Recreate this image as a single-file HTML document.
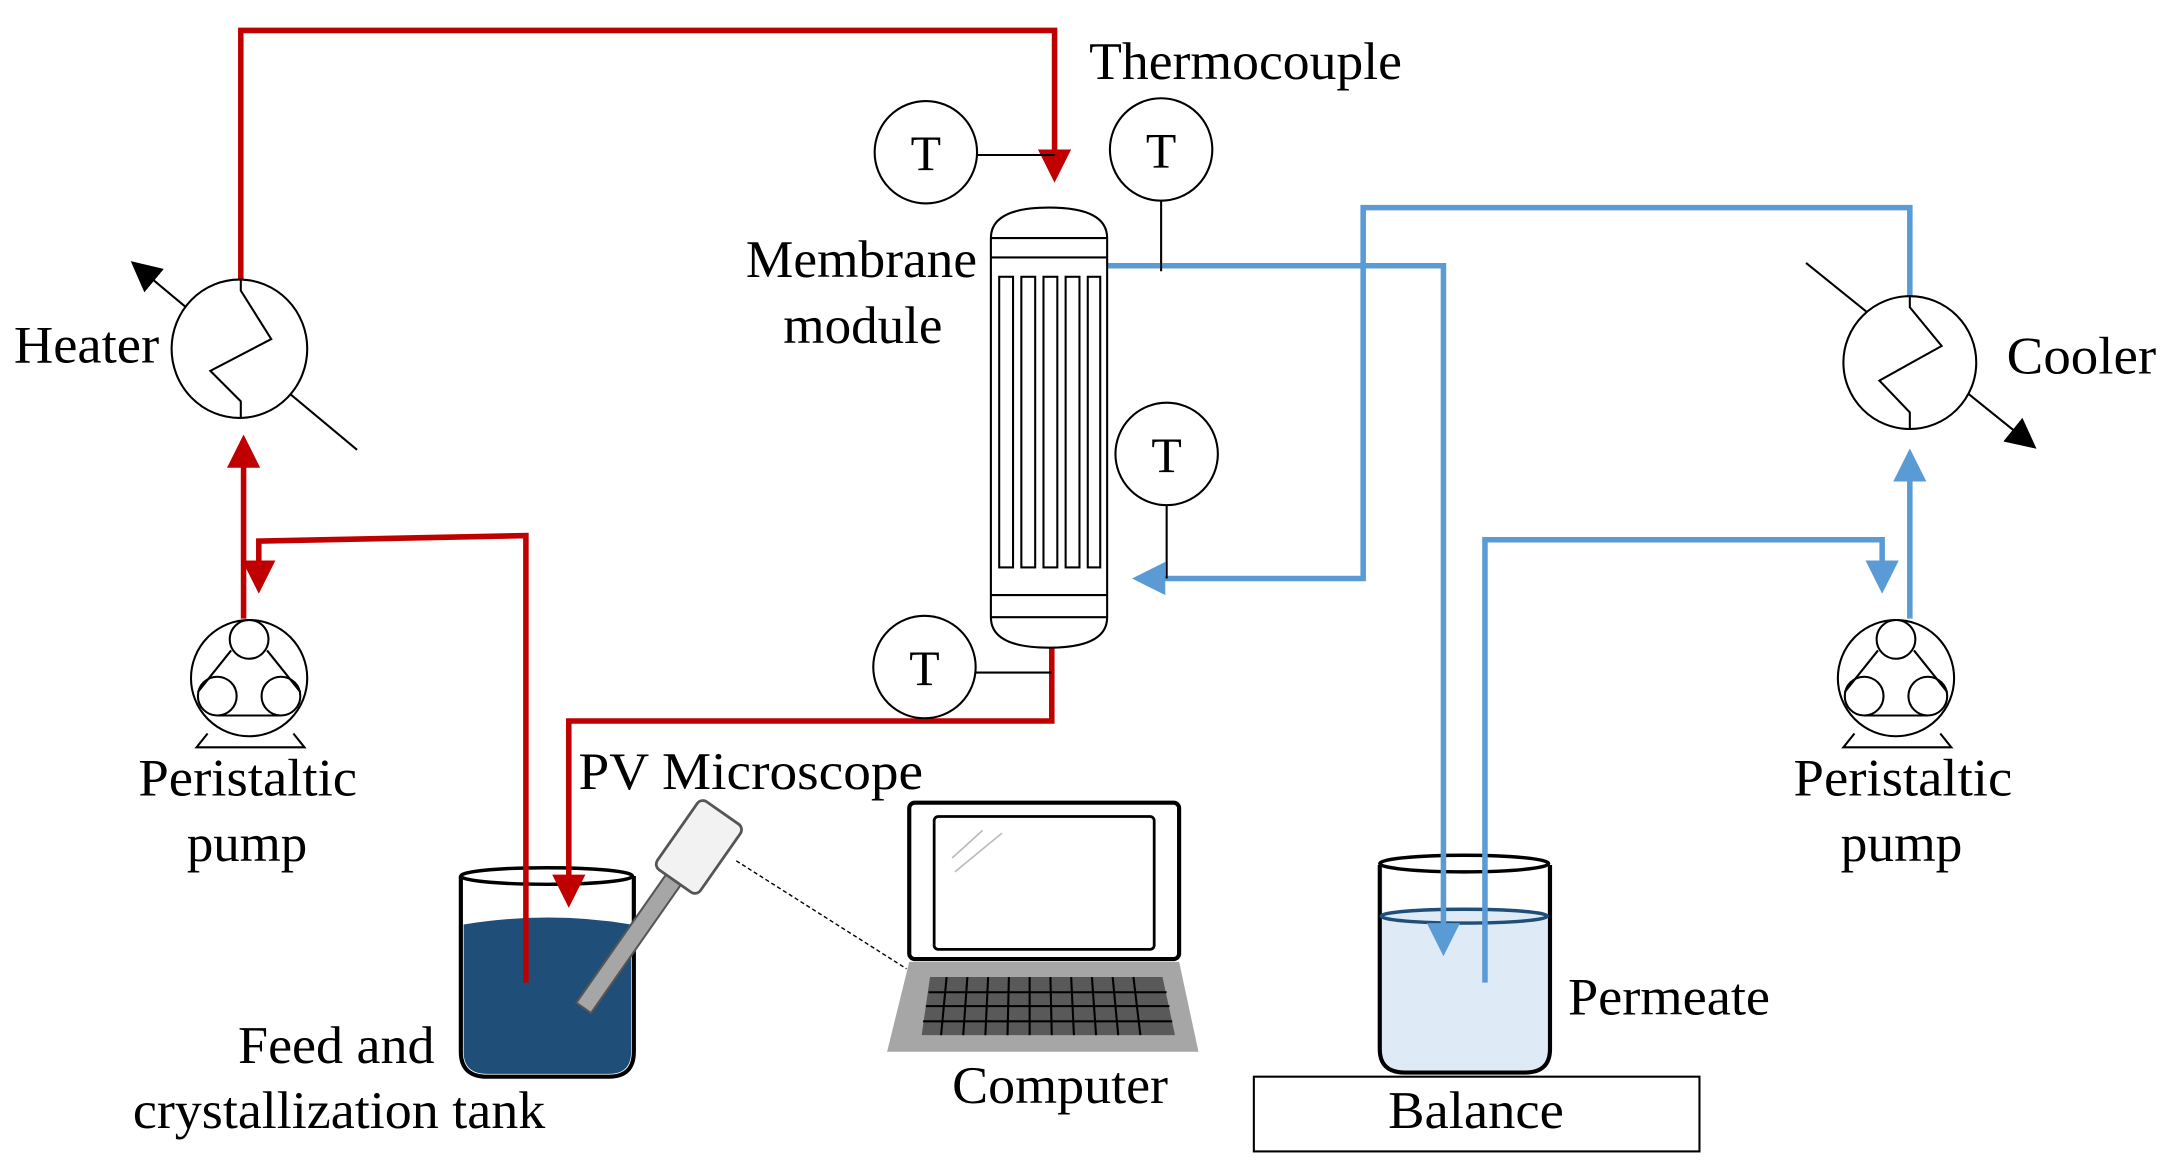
<!DOCTYPE html>
<html><head><style>html,body{margin:0;padding:0;background:#fff}svg{display:block}text{font-family:"Liberation Serif","DejaVu Serif",serif}</style></head>
<body>
<svg width="2170" height="1173" viewBox="0 0 1568 847.6" preserveAspectRatio="none" xmlns="http://www.w3.org/2000/svg" font-size="38" fill="#000">
<defs>
<marker id="ar" markerWidth="6" markerHeight="6" refX="5" refY="3" orient="auto" markerUnits="strokeWidth"><path d="M0,0 L6,3 L0,6 z" fill="#c00000"/></marker>
<marker id="ab" markerWidth="6" markerHeight="6" refX="5" refY="3" orient="auto" markerUnits="strokeWidth"><path d="M0,0 L6,3 L0,6 z" fill="#5b9bd5"/></marker>
<marker id="ak" markerWidth="22" markerHeight="22" refX="20" refY="11" orient="auto" markerUnits="userSpaceOnUse"><path d="M0,0 L22,11 L0,22 z" fill="#000"/></marker>
</defs>
<!-- tank -->
<path d="M333,633 L333,760 Q333,778 352,778 L440,778 Q458,778 458,760 L458,633" fill="#fff" stroke="#000" stroke-width="3"/>
<path d="M335,668 Q396,658 456,668 L456,760 Q456,776 440,776 L352,776 Q335,776 335,760 Z" fill="#1f4e79"/>
<ellipse cx="395" cy="633" rx="62" ry="6" fill="none" stroke="#000" stroke-width="2.5"/>
<!-- permeate -->
<path d="M997,625 L997,758 Q997,775 1015,775 L1102,775 Q1120,775 1120,758 L1120,625" fill="#deebf7" stroke="#000" stroke-width="3"/>
<rect x="999" y="622" width="119" height="38" fill="#fff"/>
<ellipse cx="1058" cy="624" rx="61" ry="6" fill="none" stroke="#000" stroke-width="2.5"/>
<ellipse cx="1058" cy="662" rx="60" ry="5" fill="#deebf7" stroke="#1f4e79" stroke-width="2.5"/>
<rect x="906" y="778" width="322" height="54" fill="#fff" stroke="#000" stroke-width="1.5"/>
<!-- red lines -->
<g stroke="#c00000" stroke-width="4" fill="none">
<polyline points="174,203 174,22 762,22 762,128" marker-end="url(#ar)"/>
<line x1="176" y1="447" x2="176" y2="318" marker-end="url(#ar)"/>
<polyline points="380,710 380,387 187,391 187,425" marker-end="url(#ar)"/>
<polyline points="760,468 760,521 411,521 411,652" marker-end="url(#ar)"/>
</g>
<!-- blue lines -->
<g stroke="#5b9bd5" stroke-width="4" fill="none">
<polyline points="800,192 1043,192 1043,687" marker-end="url(#ab)"/>
<polyline points="1380,215 1380,150 985,150 985,418 822,418" marker-end="url(#ab)"/>
<line x1="1380" y1="447" x2="1380" y2="328" marker-end="url(#ab)"/>
<polyline points="1073,710 1073,390 1360,390 1360,425" marker-end="url(#ab)"/>
</g>
<g stroke="#000" stroke-width="1.5" fill="none">
<!-- heater -->
<line x1="258" y1="325" x2="96" y2="190" marker-end="url(#ak)"/>
<ellipse cx="173" cy="252" rx="49" ry="50" fill="#fff"/>
<polyline points="174,202 174,210 196,245 152,268 174,290 174,302"/>
<!-- cooler -->
<line x1="1305" y1="190" x2="1470" y2="323" marker-end="url(#ak)"/>
<ellipse cx="1380" cy="262" rx="48" ry="48" fill="#fff"/>
<polyline points="1380,214 1380,222 1403,250 1358,275 1380,298 1380,310"/>
<!-- T sensors -->
<ellipse cx="669" cy="110" rx="37" ry="37"/><line x1="706" y1="112" x2="762" y2="112"/>
<ellipse cx="839" cy="108" rx="37" ry="37"/><line x1="839" y1="145" x2="839" y2="196"/>
<ellipse cx="843" cy="328" rx="37" ry="37"/><line x1="843" y1="365" x2="843" y2="418"/>
<ellipse cx="668" cy="482" rx="37" ry="37"/><line x1="705" y1="486" x2="760" y2="486"/>
<!-- module -->
<path d="M716,172 Q716,150 758,150 Q800,150 800,172 L800,446 Q800,468 758,468 Q716,468 716,446 Z" fill="#fff"/>
<line x1="716" y1="172" x2="800" y2="172"/><line x1="716" y1="186" x2="800" y2="186"/>
<line x1="716" y1="430" x2="800" y2="430"/><line x1="716" y1="446" x2="800" y2="446"/>
<rect x="722" y="200" width="10" height="210"/><rect x="738" y="200" width="10" height="210"/><rect x="754" y="200" width="10" height="210"/><rect x="770" y="200" width="10" height="210"/><rect x="786" y="200" width="9" height="210"/>
<!-- pumps -->
<g id="p1"><path d="M150,530 L142,540 L220,540 L212,530"/><circle cx="180" cy="490" r="42" fill="#fff"/><circle cx="180" cy="462" r="14"/><circle cx="157" cy="503" r="14"/><circle cx="203" cy="503" r="14"/><line x1="167" y1="470" x2="143" y2="500"/><line x1="193" y1="470" x2="217" y2="500"/><line x1="157" y1="517" x2="203" y2="517"/></g>
<use href="#p1" transform="translate(1190,0)"/>
</g>
<!-- probe -->
<g transform="rotate(35 505 612)">
<rect x="497" y="625" width="13" height="130" fill="#a6a6a6" stroke="#555" stroke-width="1.5"/>
<rect x="486" y="582" width="38" height="60" rx="5" fill="#f2f2f2" stroke="#555" stroke-width="2"/>
</g>
<line x1="532" y1="622" x2="655" y2="700" stroke="#000" stroke-width="1" stroke-dasharray="3,2"/>
<!-- laptop -->
<rect x="657" y="580" width="195" height="113" rx="4" fill="#fff" stroke="#000" stroke-width="3"/>
<rect x="675" y="590" width="159" height="96" rx="3" fill="#fff" stroke="#000" stroke-width="2"/>
<line x1="688" y1="620" x2="710" y2="600" stroke="#bbb" stroke-width="1.2"/><line x1="690" y1="630" x2="724" y2="602" stroke="#bbb" stroke-width="1.2"/>
<path d="M657,695 L852,695 L866,760 L641,760 Z" fill="#a6a6a6"/>
<path d="M672,706 L840,706 L849,748 L666,748 Z" fill="#595959"/>
<g stroke="#000" stroke-width="1.5">
<line x1="671" y1="717" x2="843" y2="717"/><line x1="669" y1="727" x2="845" y2="727"/><line x1="667" y1="738" x2="847" y2="738"/>
<line x1="684" y1="706" x2="680" y2="748"/><line x1="699" y1="706" x2="696" y2="748"/><line x1="714" y1="706" x2="712" y2="748"/><line x1="729" y1="706" x2="728" y2="748"/><line x1="744" y1="706" x2="744" y2="748"/><line x1="759" y1="706" x2="760" y2="748"/><line x1="774" y1="706" x2="776" y2="748"/><line x1="789" y1="706" x2="792" y2="748"/><line x1="804" y1="706" x2="808" y2="748"/><line x1="819" y1="706" x2="824" y2="748"/>
</g>
<!-- T letters -->
<g font-size="36" text-anchor="middle"><text x="669" y="123">T</text><text x="839" y="121">T</text><text x="843" y="341">T</text><text x="668" y="495">T</text></g>
<!-- labels -->
<text x="787" y="57" textLength="226" lengthAdjust="spacingAndGlyphs">Thermocouple</text>
<text x="539" y="200" textLength="167" lengthAdjust="spacingAndGlyphs">Membrane</text>
<text x="566" y="248" textLength="115" lengthAdjust="spacingAndGlyphs">module</text>
<text x="10" y="262" textLength="105" lengthAdjust="spacingAndGlyphs">Heater</text>
<text x="1450" y="270" textLength="108" lengthAdjust="spacingAndGlyphs">Cooler</text>
<text x="100" y="575" textLength="158" lengthAdjust="spacingAndGlyphs">Peristaltic</text>
<text x="135" y="622" textLength="87" lengthAdjust="spacingAndGlyphs">pump</text>
<text x="1296" y="575" textLength="158" lengthAdjust="spacingAndGlyphs">Peristaltic</text>
<text x="1330" y="622" textLength="88" lengthAdjust="spacingAndGlyphs">pump</text>
<text x="418" y="570" textLength="249" lengthAdjust="spacingAndGlyphs">PV Microscope</text>
<text x="172" y="768" textLength="142" lengthAdjust="spacingAndGlyphs">Feed and</text>
<text x="96" y="815" textLength="298" lengthAdjust="spacingAndGlyphs">crystallization tank</text>
<text x="688" y="797" textLength="156" lengthAdjust="spacingAndGlyphs">Computer</text>
<text x="1133" y="733" textLength="146" lengthAdjust="spacingAndGlyphs">Permeate</text>
<text x="1003" y="815" textLength="127" lengthAdjust="spacingAndGlyphs">Balance</text>
</svg>
</body></html>
